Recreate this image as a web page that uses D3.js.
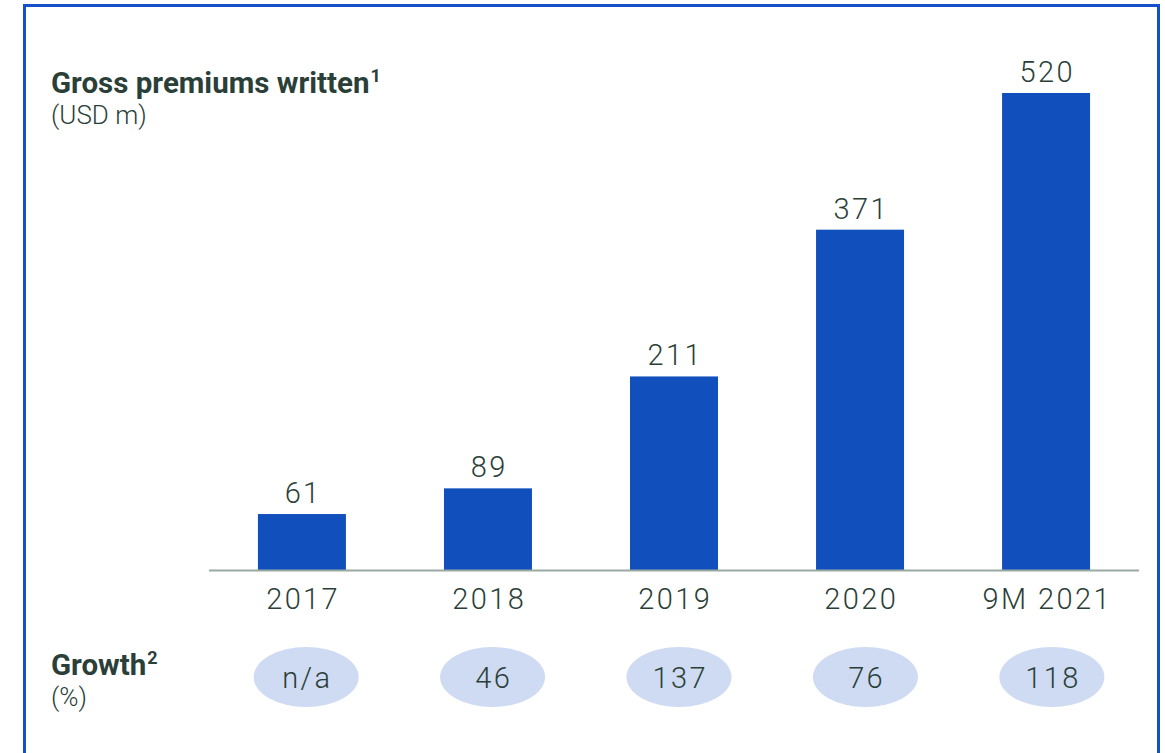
<!DOCTYPE html>
<html><head><meta charset="utf-8">
<script src="https://cdn.jsdelivr.net/npm/d3@7"></script>
<style>body{margin:0;background:#fff}svg{display:block}</style>
</head><body>
<svg id="c" width="1165" height="753"></svg>
<script>
const categories = ["2017","2018","2019","2020","9M 2021"];
const premiums = [61, 89, 211, 371, 520];
const growth = ["n/a","46","137","76","118"];

const svg = d3.select("#c");
const txt = "#2b3f39";
const font = "Roboto, 'Liberation Sans', sans-serif";
const ls = 2.4;
const fs = 29;

// frame
svg.append("path").attr("d","M24.5,760 V5.5 H1158.5 V760")
  .attr("fill","none").attr("stroke","#1450c8").attr("stroke-width",3);

const x = d3.scaleBand().domain(categories).range([209,1139]).paddingInner(0.527).paddingOuter(0.263);
const xg = d3.scaleBand().domain(categories).range([212,1146]).paddingInner(0.43).paddingOuter(0.22);
const y = d3.scaleLinear().domain([0,520]).range([570,93]);
const cx = c => x(c)+x.bandwidth()/2;
const gx = c => xg(c)+xg.bandwidth()/2;

svg.selectAll("rect.bar").data(premiums).join("rect").attr("class","bar")
  .attr("x",(d,i)=>x(categories[i])).attr("width",x.bandwidth())
  .attr("y",d=>y(d)).attr("height",d=>y(0)-y(d)).attr("fill","#114fbd");

svg.append("line").attr("x1",209).attr("x2",1139).attr("y1",y(0)+0.5).attr("y2",y(0)+0.5)
  .attr("stroke","#9aaaa3").attr("stroke-width",2);

svg.selectAll("text.val").data(premiums).join("text").attr("class","val")
  .attr("x",(d,i)=>cx(categories[i])+ls/2).attr("y",d=>y(d)-11)
  .attr("text-anchor","middle").attr("font-family",font).attr("font-weight",300)
  .attr("font-size",fs).attr("letter-spacing",ls).attr("fill",txt).text(d=>d);

svg.selectAll("text.cat").data(categories).join("text").attr("class","cat")
  .attr("x",d=>cx(d)+ls/2).attr("y",609)
  .attr("text-anchor","middle").attr("font-family",font).attr("font-weight",300)
  .attr("font-size",fs).attr("letter-spacing",ls).attr("fill",txt).text(d=>d);

svg.selectAll("ellipse.g").data(growth).join("ellipse").attr("class","g")
  .attr("cx",(d,i)=>gx(categories[i])).attr("cy",677)
  .attr("rx",52.5).attr("ry",30).attr("fill","#cfdbf2");

svg.selectAll("text.gr").data(growth).join("text").attr("class","gr")
  .attr("x",(d,i)=>gx(categories[i])+ls/2).attr("y",688)
  .attr("text-anchor","middle").attr("font-family",font).attr("font-weight",300)
  .attr("font-size",fs).attr("letter-spacing",ls).attr("fill",txt).text(d=>d);

function title(yb, main, sup, sub, ys){
  const t = svg.append("text").attr("x",51).attr("y",yb).attr("font-family",font)
    .attr("font-weight",700).attr("font-size",29.5).attr("fill",txt);
  t.append("tspan").text(main);
  t.append("tspan").attr("dy",-11).attr("font-size",18).attr("dx",1).text(sup);
  svg.append("text").attr("x",51).attr("y",ys).attr("font-family",font)
    .attr("font-weight",300).attr("font-size",26).attr("fill",txt).text(sub);
}
title(93,"Gross premiums written","1","(USD m)",124);
title(675,"Growth","2","(%)",706);
</script>
</body></html>
